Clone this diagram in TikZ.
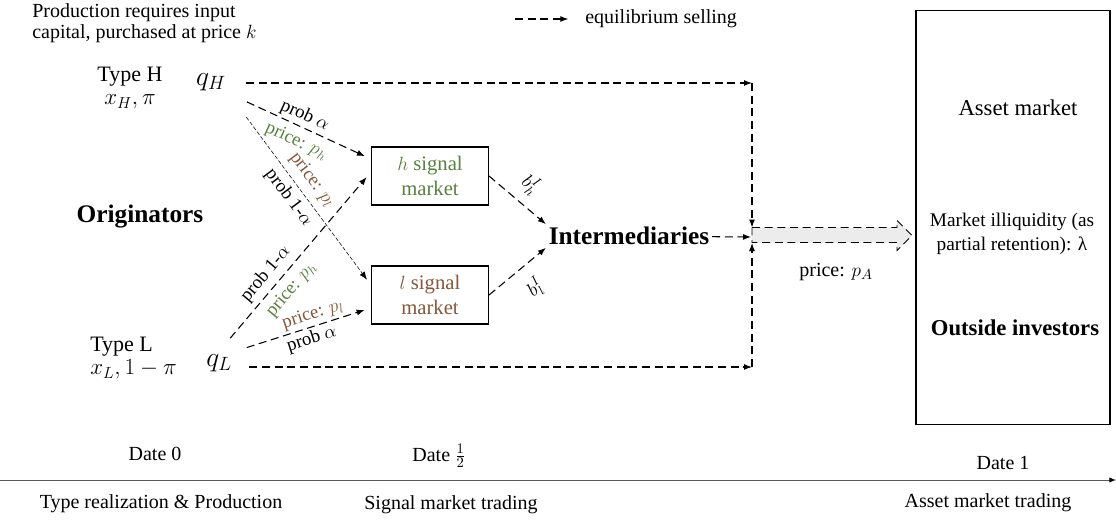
\documentclass[tikz,border=0pt]{standalone}
\usepackage{fontspec}
\setmainfont{Liberation Serif}
\usetikzlibrary{arrows.meta}
\definecolor{hgreen}{RGB}{88,128,64}
\definecolor{lbrown}{RGB}{133,87,57}
\tikzset{mbox/.style={
    rectangle,
    draw,
    line width=0.8pt,
    align=center,
    minimum width=87.75pt,
    minimum height=43.5pt,
    font=\fontsize{15.5}{18.75}\selectfont
  },
  abox/.style={mbox,minimum width=145.5pt,minimum height=311pt},
  txt/.style={inner sep=0pt,font=\fontsize{15}{16}\selectfont},
  typetxt/.style={txt,align=center,font=\fontsize{16.5}{17.5}\selectfont},
  qtxt/.style={inner sep=2pt,font=\fontsize{20}{22}\selectfont},
  boxtxt/.style={inner sep=0pt,font=\fontsize{17}{19}\selectfont},
  boldtxt/.style={boxtxt,font=\fontsize{17}{19}\selectfont\bfseries},
  bigtxt/.style={inner sep=0pt,font=\fontsize{19}{22}\selectfont\bfseries},
  lbl/.style={inner sep=1pt,font=\fontsize{14}{16}\selectfont},
  eqline/.style={draw,line width=0.8pt,dash pattern=on 6pt off 3.5pt},
  eqarrow/.style={eqline,-{Latex[length=6pt,width=4.5pt]}},
  thinarrow/.style={eqarrow,line width=0.4pt,dash pattern=on 3pt off 1.5pt},
  fatarrow/.style={eqline,line width=0.6pt,fill=gray!15},
  timeline/.style={draw=gray!70!black,line width=0.7pt,-{Latex[length=5pt,width=4pt,color=black]}}
}

\begin{document}
\begin{tikzpicture}[x=0.75pt,y=-0.75pt]
  \useasboundingbox (0,0) rectangle (1116,521);
  % notes and legend
  \node[txt,align=left,anchor=west] (note) at (32,23) {Production requires input\\capital, purchased at price $k$};
  \node[txt,anchor=west] (legend) at (585,19) {equilibrium selling};
  \coordinate (legstart) at (515,19);
  \draw[eqarrow,shorten >=12.5pt] (legstart) -- (legend.west);

  % originators
  \node[bigtxt] (orig) at (140,217) {Originators};
  \node[typetxt] (typeh) at (130,88) {Type H\\$x_H,\pi$};
  \node[typetxt,align=left,anchor=west] (typel) at (90,358) {Type L\\$x_L,1-\pi$};
  \node[qtxt] (qh) at (211,82) {$q_H$};
  \node[qtxt] (ql) at (219,363) {$q_L$};

  % markets
  \node[mbox,text=hgreen] (hbox) at (430,176) {$h$ signal\\market};
  \node[mbox,text=lbrown] (lbox) at (430,295) {$l$ signal\\market};
  \node[bigtxt,inner sep=2pt] (inter) at (629,236) {Intermediaries};
  \node[abox] (asset) at (1013,217.5) {};
  \node[boxtxt] (am) at (1018,108) {Asset market};
  \node[txt,align=center,font=\fontsize{14.5}{17.5}\selectfont] (illiq) at (1012,234) {Market illiquidity (as\\partial retention): λ};
  \node[boldtxt] (outside) at (1015,328) {Outside investors};
  \node[txt] (pa) at (836,272) {price: $p_A$};

  % junction
  \coordinate (topc) at (752,83);
  \coordinate (botc) at (752,367);
  \coordinate (jtop) at (752,227.5);
  \coordinate (jbot) at (752,243);
  \coordinate (jmid) at (751,237);

  % equilibrium selling
  \draw[eqarrow,shorten <=13pt] (qh.east |- topc) -- (topc);
  \draw[eqarrow,shorten <=11pt] (ql.east |- botc) -- (botc);
  \draw[eqarrow] (topc) -- (jtop);
  \draw[eqarrow] (botc) -- (jbot);
  \draw[eqarrow] (inter) -- (jmid);
  \draw[fatarrow] (jtop) -- ++(145,0) -- ++(0,-7) -- ++(15,15) -- ++(-15,15) -- ++(0,-8) -- ++(-145,0) -- cycle;

  \draw[eqarrow,shorten <=15pt,shorten >=5pt] (qh.south east) -- ([yshift=12.75pt]hbox.west)
    node[lbl,sloped,above=1pt,pos=0.5] {prob $\alpha$}
    node[lbl,sloped,below=4pt,pos=0.52,text=hgreen] {price: $p_h$};
  \draw[thinarrow,shorten <=22pt,shorten >=5pt] (qh.south east) -- ([yshift=7.5pt]lbox.west)
    node[lbl,sloped,above=4pt,pos=0.5,text=lbrown] {price: $p_l$}
    node[lbl,sloped,below=3pt,pos=0.5] {prob 1-$\alpha$};
  \draw[eqarrow,shorten <=13pt,shorten >=5pt] (ql.north) -- ([yshift=3pt]hbox.west)
    node[lbl,sloped,above=3pt,pos=0.38] {prob 1-$\alpha$}
    node[lbl,sloped,below=4pt,pos=0.4,text=hgreen] {price: $p_h$};
  \draw[eqarrow,shorten <=9.5pt,shorten >=5pt] (ql.north east) -- ([yshift=-9.75pt]lbox.west)
    node[lbl,sloped,above=1pt,pos=0.6,text=lbrown] {price: $p_l$}
    node[lbl,sloped,below=1pt,pos=0.54] {prob $\alpha$};
  \draw[eqarrow] (hbox.east) -- (inter.north west)
    node[lbl,sloped,above=6pt,pos=0.5] {$b^I_h$};
  \draw[eqarrow] (lbox.east) -- (inter.south west)
    node[lbl,sloped,below=9pt,pos=0.55] {$b^I_l$};

  % timeline
  \coordinate (tlstart) at (0,480);
  \coordinate (tlend) at (1116,480);
  \draw[timeline] (tlstart) -- (tlend);
  \node[txt,anchor=base] (d0) at (155,460) {Date 0};
  \node[txt,anchor=base] (dhalf) at (439,461) {Date $\frac{1}{2}$};
  \node[txt,anchor=base] (d1) at (1003,469) {Date 1};
  \node[txt] (ph0) at (161,504) {Type realization \& Production};
  \node[txt] (ph1) at (451,505) {Signal market trading};
  \node[txt] (ph2) at (988,503) {Asset market trading};
\end{tikzpicture}
\end{document}
